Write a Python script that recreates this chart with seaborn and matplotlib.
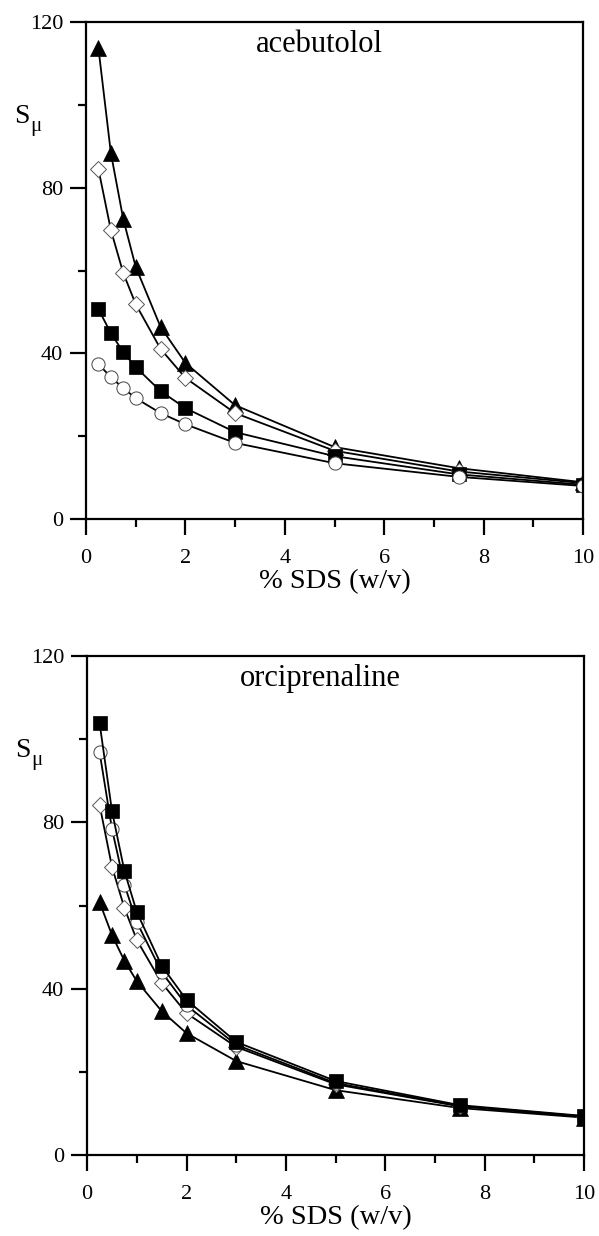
import pandas as pd
import matplotlib
matplotlib.use("Agg")
import matplotlib.pyplot as plt
import seaborn as sns
from matplotlib.ticker import MultipleLocator

# SDS concentration (% w/v), shared by every series
sds = [0.25, 0.5, 0.75, 1, 1.5, 2, 3, 5, 7.5, 10]

# acebutolol panel
ace_triangle = [113.7, 88.4, 72.4, 60.9, 46.4, 37.7, 27.5, 17.4, 12.3, 8.9]
ace_diamond = [84.5, 69.8, 59.4, 51.9, 41.1, 34.1, 25.6, 16.5, 11.5, 8.7]
ace_square = [50.7, 44.9, 40.3, 36.7, 30.9, 26.8, 21.0, 15.2, 10.8, 8.3]
ace_circle = [37.4, 34.3, 31.6, 29.2, 25.6, 22.9, 18.4, 13.5, 10.2, 8.0]

# orciprenaline panel
orc_square = [103.9, 82.7, 68.3, 58.4, 45.5, 37.3, 27.2, 17.8, 12.0, 9.4]
orc_circle = [96.9, 78.4, 65.0, 56.0, 44.0, 36.0, 26.5, 17.3, 11.8, 9.3]
orc_diamond = [84.2, 69.3, 59.4, 51.7, 41.4, 34.1, 26.0, 17.0, 11.7, 9.2]
orc_triangle = [60.8, 52.9, 46.7, 41.8, 34.6, 29.3, 22.6, 15.6, 11.3, 9.0]

sns.set_style("ticks")
plt.rcParams["font.family"] = ["Liberation Serif", "DejaVu Serif"]
plt.rcParams.update({"text.color": "black", "axes.edgecolor": "black",
                     "xtick.color": "black", "ytick.color": "black",
                     "axes.labelcolor": "black"})

# marker look for each symbol type
styles = {
    "triangle": dict(marker="^", ms=12, mfc="black", mec="black", mew=0.5),
    "diamond": dict(marker="D", ms=8, mfc="white", mec="#555555", mew=0.7),
    "square": dict(marker="s", ms=10, mfc="black", mec="black", mew=0.5),
    "circle": dict(marker="o", ms=9.5, mfc="white", mec="#444444", mew=0.7),
}

panels = [
    ("acebutolol", [("triangle", ace_triangle), ("diamond", ace_diamond),
                    ("square", ace_square), ("circle", ace_circle)]),
    ("orciprenaline", [("triangle", orc_triangle), ("diamond", orc_diamond),
                       ("circle", orc_circle), ("square", orc_square)]),
]

fig = plt.figure(figsize=(5.99, 12.36), dpi=100)
boxes = [[0.1436, 0.580, 0.8297, 0.4021], [0.1455, 0.0655, 0.8297, 0.4037]]

for box, (name, series) in zip(boxes, panels):
    ax = fig.add_axes(box)
    for kind, vals in series:
        df = pd.DataFrame({"sds": sds, "s": vals})
        sns.lineplot(data=df, x="sds", y="s", ax=ax, color="black",
                     linewidth=1.3, **styles[kind])

    ax.set_xlim(0, 10)
    ax.set_ylim(0, 120)
    ax.xaxis.set_major_locator(MultipleLocator(2))
    ax.xaxis.set_minor_locator(MultipleLocator(1))
    ax.yaxis.set_major_locator(MultipleLocator(40))
    ax.yaxis.set_minor_locator(MultipleLocator(20))
    ax.tick_params(which="both", direction="out", width=1.6, top=False, right=False,
                   labelsize=16, colors="black")
    ax.tick_params(which="major", length=11.5)
    ax.tick_params(which="minor", length=6)
    ax.tick_params(axis="x", which="major", pad=10)
    ax.tick_params(axis="y", which="major", pad=5)
    for sp in ax.spines.values():
        sp.set_linewidth(1.6)
        sp.set_color("black")
        sp.set_visible(True)

    ax.set_xlabel("% SDS (w/v)", fontsize=20.5, labelpad=1, color="black")
    ax.set_ylabel("")
    ax.text(-0.145, 0.81, "S", transform=ax.transAxes, fontsize=20,
            ha="left", va="center", color="black")
    ax.text(-0.113, 0.79, "\u03bc", transform=ax.transAxes, fontsize=15,
            ha="left", va="center", color="black")
    ax.text(0.47, 0.985, name, transform=ax.transAxes, fontsize=22,
            ha="center", va="top", color="black")

fig.savefig("out.png", dpi=100)
